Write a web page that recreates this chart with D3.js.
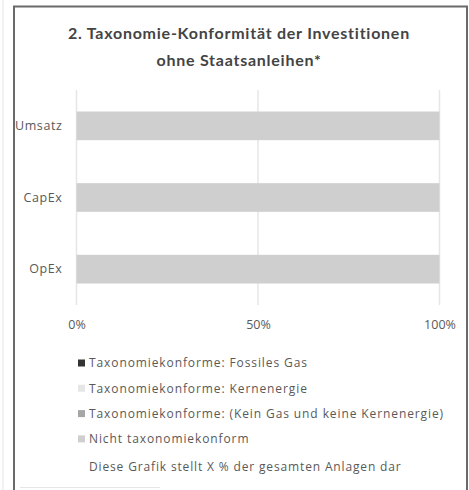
<!DOCTYPE html>
<html>
<head>
<meta charset="utf-8">
<script src="https://cdn.jsdelivr.net/npm/d3@7"></script>
<style>
  body { margin: 0; background: #fff; }
  svg { display: block; }
</style>
</head>
<body>
<svg id="chart"></svg>
<script>
// Daten
var categories = ["Umsatz", "CapEx", "OpEx"];
var seriesNames = [
    "Taxonomiekonforme: Fossiles Gas",
    "Taxonomiekonforme: Kernenergie",
    "Taxonomiekonforme: (Kein Gas und keine Kernenergie)",
    "Nicht taxonomiekonform"
];
var fossilGas = [0, 0, 0];
var nuclear = [0, 0, 0];
var otherAligned = [0, 0, 0];
var notAligned = [100, 100, 100];
var tickValues = [0, 50, 100];
var titleLines = ["2. Taxonomie-Konformität der Investitionen", "ohne Staatsanleihen*"];
var note = "Diese Grafik stellt X % der gesamten Anlagen dar";

var colors = ["#333333", "#e6e6e6", "#a6a6a6", "#cfcfcf"];

var width = 469, height = 490;
var svg = d3.select("#chart").attr("width", width).attr("height", height);

// Rahmen
svg.append("line").attr("x1", 3).attr("x2", 3).attr("y1", 0).attr("y2", height)
    .attr("stroke", "#e4e4e4").attr("stroke-width", 1);
svg.append("path")
    .attr("d", "M14," + height + "V6.5H467V" + height)
    .attr("fill", "none").attr("stroke", "#6a6a6a").attr("stroke-width", 2);
svg.append("line").attr("x1", 20).attr("x2", 160).attr("y1", 487.5).attr("y2", 487.5)
    .attr("stroke", "#e6e6e6").attr("stroke-width", 1);

// Titel
svg.append("g").selectAll("text")
    .data(titleLines)
    .enter()
    .append("text")
    .attr("x", 239)
    .attr("y", function (d, i) { return 39 + i * 27; })
    .attr("text-anchor", "middle")
    .attr("font-family", "Lato, 'Open Sans', sans-serif")
    .attr("font-weight", "bold")
    .attr("font-size", "16px")
    .attr("letter-spacing", "0.75px")
    .attr("fill", "#444")
    .text(function (d) { return d; });

// Skalen
var x = d3.scaleLinear().domain([0, 100]).range([76.5, 439.5]);
var y = d3.scaleBand().domain(categories).range([90, 305])
    .paddingInner(0.6).paddingOuter(0.3);

// Gitterlinien
svg.append("g").selectAll("line")
    .data(tickValues)
    .enter()
    .append("line")
    .attr("x1", function (d) { return x(d); })
    .attr("x2", function (d) { return x(d); })
    .attr("y1", 90).attr("y2", 305)
    .attr("stroke", "#e6e6e6").attr("stroke-width", 1.5);

// gestapelte Balken
var rows = categories.map(function (c, i) {
    return { cat: c, s0: fossilGas[i], s1: nuclear[i], s2: otherAligned[i], s3: notAligned[i] };
});
var stack = d3.stack().keys(["s0", "s1", "s2", "s3"]);
var layers = stack(rows);

svg.append("g").selectAll("g")
    .data(layers)
    .enter()
    .append("g")
    .attr("fill", function (d, i) { return colors[i]; })
    .selectAll("rect")
    .data(function (d) { return d; })
    .enter()
    .append("rect")
    .attr("x", function (d) { return x(d[0]); })
    .attr("width", function (d) { return x(d[1]) - x(d[0]); })
    .attr("y", function (d) { return y(d.data.cat); })
    .attr("height", y.bandwidth());

// Achsen
var yAxis = svg.append("g")
    .attr("transform", "translate(76.5,0)")
    .call(d3.axisLeft(y).tickSize(0).tickPadding(14));
yAxis.select(".domain").remove();
yAxis.selectAll("text")
    .attr("font-family", "'Open Sans', sans-serif")
    .attr("font-size", "12.5px")
    .attr("letter-spacing", "0.6px")
    .attr("fill", "#595959");

var xAxis = svg.append("g")
    .attr("transform", "translate(0,305)")
    .call(d3.axisBottom(x).tickValues(tickValues).tickSize(0).tickPadding(15)
        .tickFormat(function (d) { return d + "%"; }));
xAxis.select(".domain").remove();
xAxis.selectAll("text")
    .attr("font-family", "'Open Sans', sans-serif")
    .attr("font-size", "12.5px")
    .attr("fill", "#595959");

// Legende
var legend = svg.append("g").selectAll("g")
    .data(seriesNames)
    .enter()
    .append("g")
    .attr("transform", function (d, i) { return "translate(78," + (363 + i * 25.3) + ")"; });
legend.append("rect")
    .attr("x", 0).attr("y", -3.5)
    .attr("width", 7).attr("height", 7)
    .attr("fill", function (d, i) { return colors[i]; });
legend.append("text")
    .attr("x", 11)
    .attr("dy", "0.35em")
    .attr("font-family", "'Open Sans', sans-serif")
    .attr("font-size", "12px")
    .attr("letter-spacing", "0.9px")
    .attr("fill", "#595959")
    .text(function (d) { return d; });

svg.append("text")
    .attr("x", 89).attr("y", 467).attr("dy", "0.35em")
    .attr("font-family", "'Open Sans', sans-serif")
    .attr("font-size", "12px")
    .attr("letter-spacing", "0.85px")
    .attr("fill", "#595959")
    .text(note);
</script>
</body>
</html>
